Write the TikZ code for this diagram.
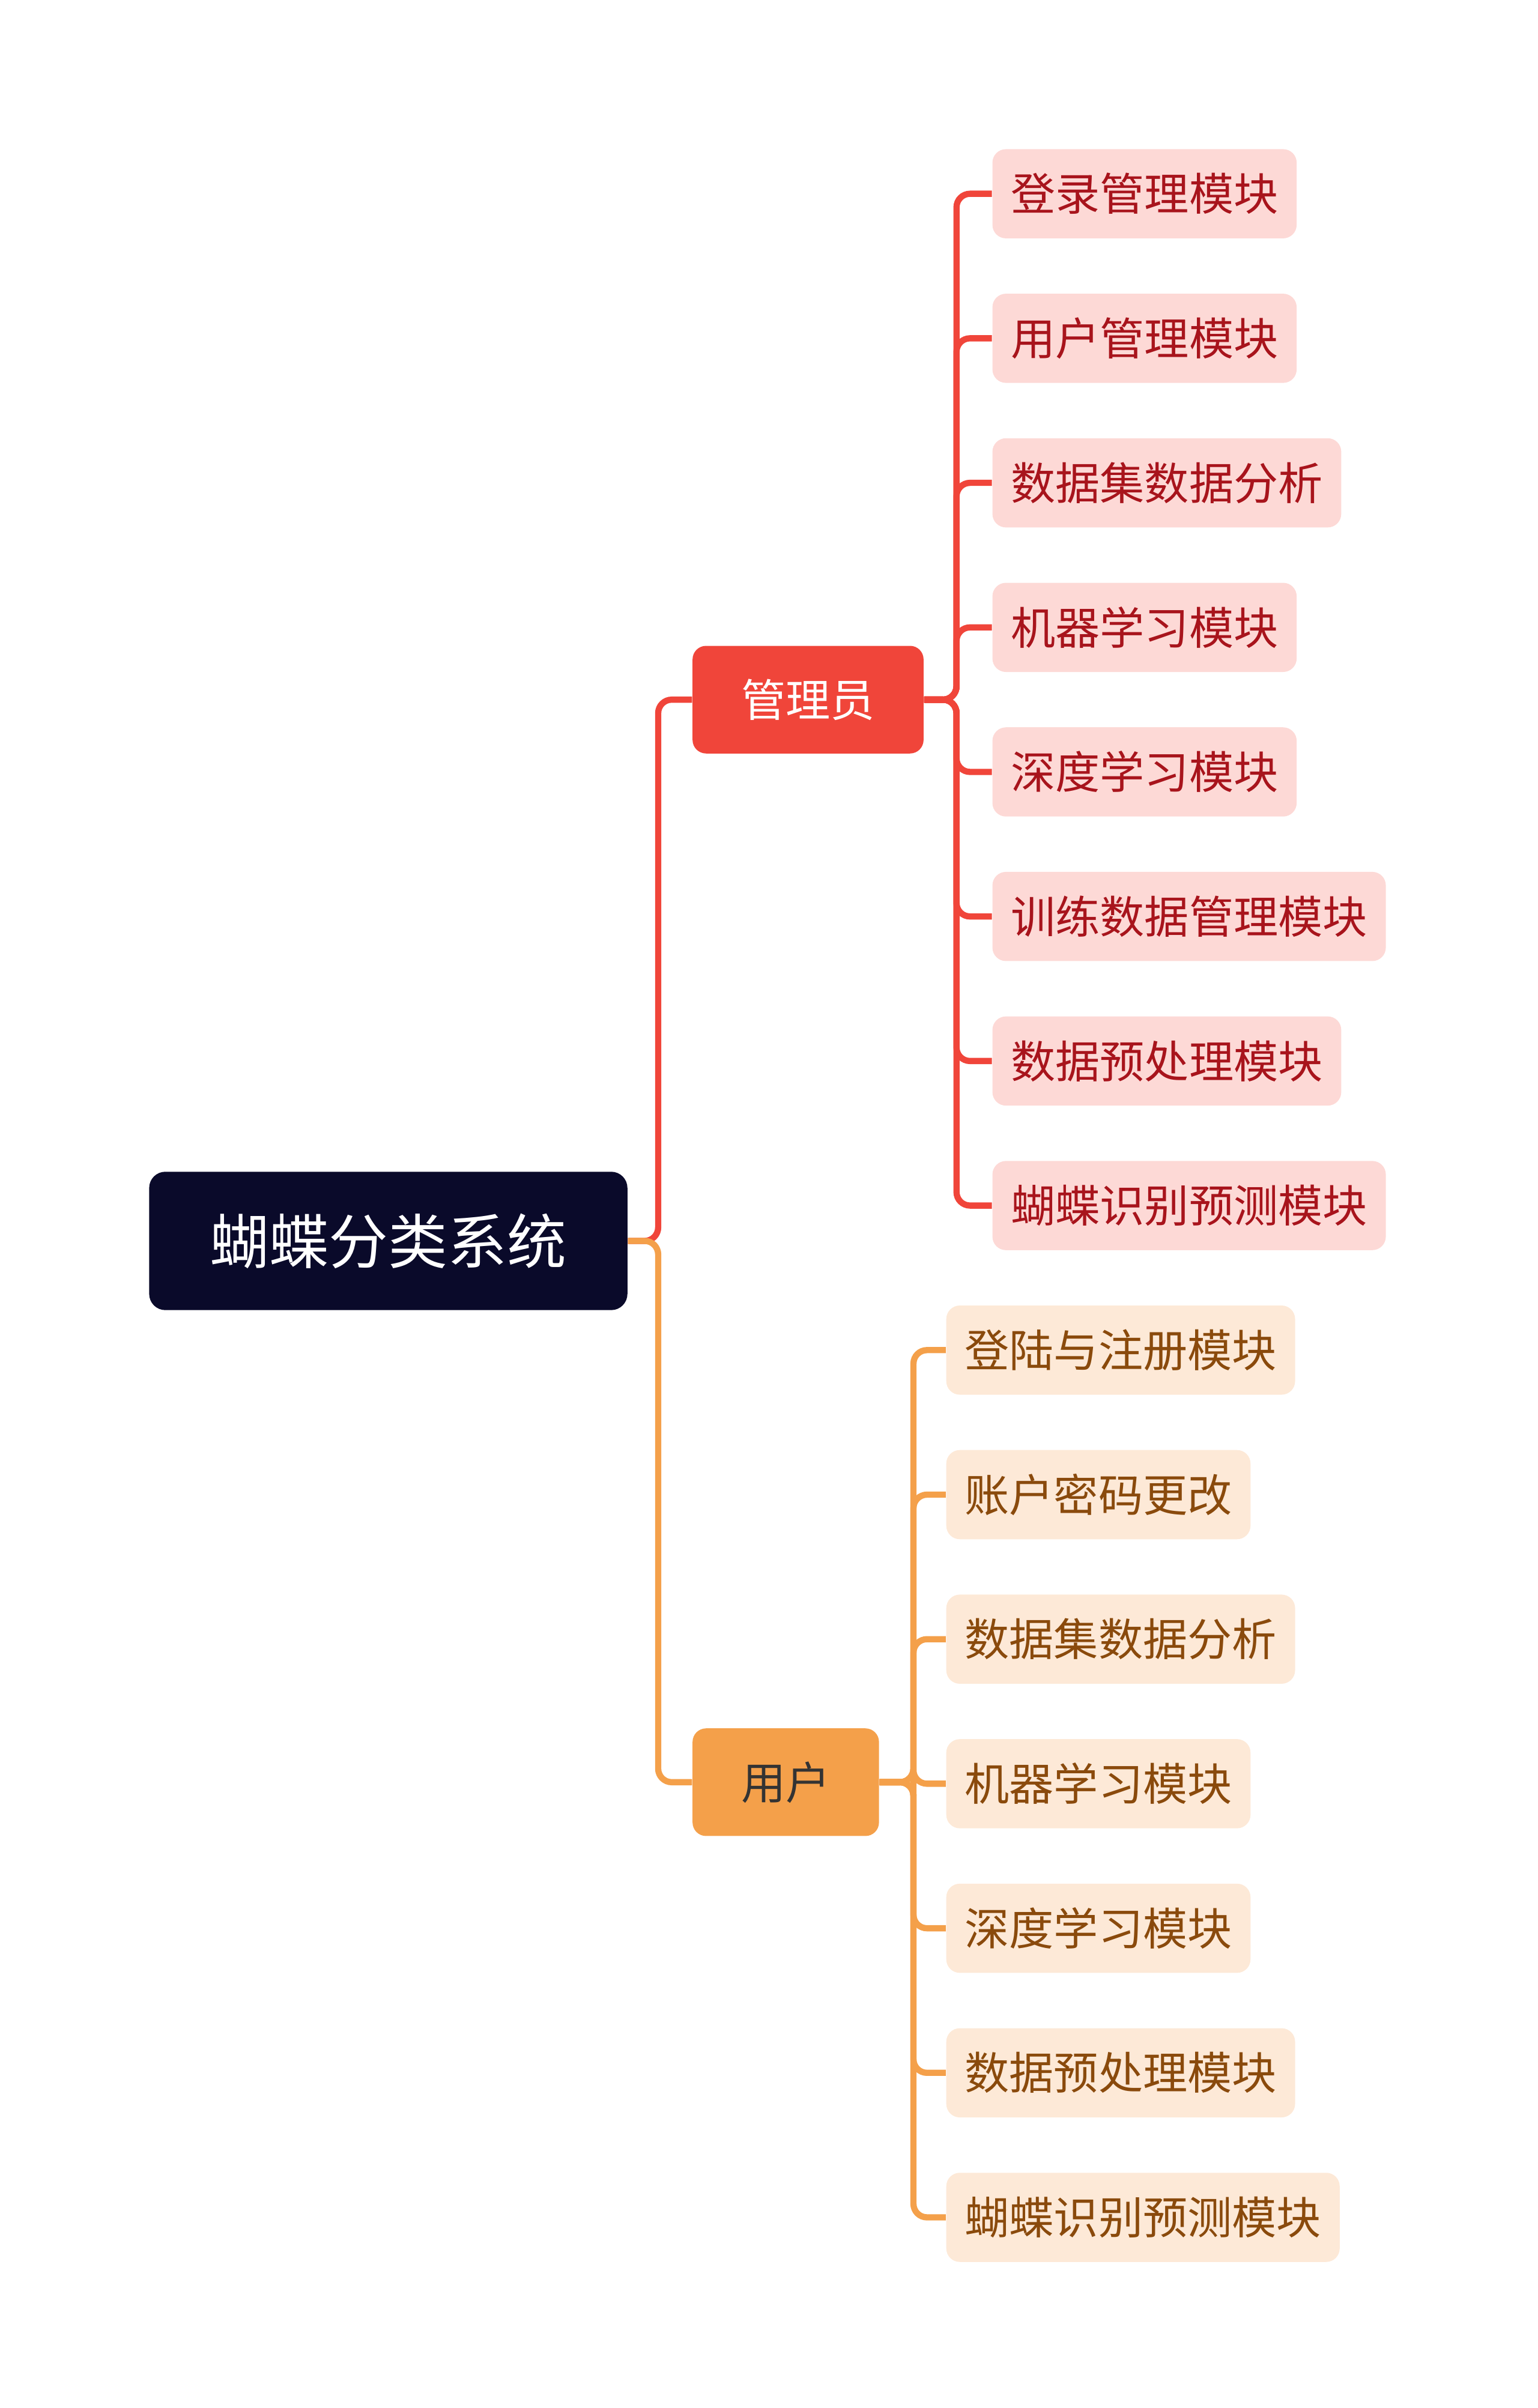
\documentclass[tikz,border=0pt]{standalone}
\usepackage{fontspec}
\setmainfont{Noto Sans CJK SC}
\usetikzlibrary{positioning}
\definecolor{navy}{HTML}{0A0A2A}
\definecolor{adminred}{HTML}{F0453A}
\definecolor{userorange}{HTML}{F4A04A}
\definecolor{redleaf}{HTML}{FDD9D6}
\definecolor{redtext}{HTML}{A8141C}
\definecolor{orangeleaf}{HTML}{FDE9D7}
\definecolor{orangetext}{HTML}{8A4A0C}
\tikzset{
  rootbox/.style={fill=navy, text=white, rounded corners=6pt, minimum width=311*0.02cm, minimum height=90*0.02cm, font=\fontsize{22}{26}\selectfont},
  midbox/.style={rounded corners=5pt, minimum height=70*0.02cm, inner xsep=18pt, font=\fontsize{16.5}{20}\selectfont, anchor=west},
  redbox/.style={fill=redleaf, text=redtext, rounded corners=5pt, minimum height=58*0.02cm, inner xsep=6.8pt, font=\fontsize{16.5}{20}\selectfont, anchor=west},
  orangebox/.style={fill=orangeleaf, text=orangetext, rounded corners=5pt, minimum height=58*0.02cm, inner xsep=6.8pt, font=\fontsize{16.5}{20}\selectfont, anchor=west},
  redline/.style={draw=adminred, line width=2.3pt, rounded corners=5pt},
  orangeline/.style={draw=userorange, line width=2.3pt, rounded corners=5pt}
}
\begin{document}
\begin{tikzpicture}[x=0.02cm, y=-0.02cm]
  \useasboundingbox (0,0) rectangle (1000,1566);
  % root and branches
  \node[rootbox] (root) at (252.5,807) {蝴蝶分类系统};
  \node[midbox, fill=adminred, text=white] (admin) at (450,455) {管理员};
  \node[midbox, fill=userorange, text=black!80] (user) at (450,1159) {用户};
  \draw[redline] (root.east) -- (428,807) |- (admin.west);
  \draw[orangeline] (root.east) -- (428,807) |- (user.west);

  % admin leaves
  \foreach \i/\txt in {1/登录管理模块, 2/用户管理模块, 3/数据集数据分析, 4/机器学习模块,
                       5/深度学习模块, 6/训练数据管理模块, 7/数据预处理模块, 8/蝴蝶识别预测模块}{
    \node[redbox] (a\i) at (645,32+94*\i) {\txt};
    \draw[redline] (admin.east) -- (622,455) |- (a\i.west);
  }

  % user leaves
  \foreach \i/\txt in {1/登陆与注册模块, 2/账户密码更改, 3/数据集数据分析, 4/机器学习模块,
                       5/深度学习模块, 6/数据预处理模块, 7/蝴蝶识别预测模块}{
    \node[orangebox] (u\i) at (615,784+94*\i) {\txt};
    \draw[orangeline] (user.east) -- (594,1159) |- (u\i.west);
  }
\end{tikzpicture}
\end{document}
